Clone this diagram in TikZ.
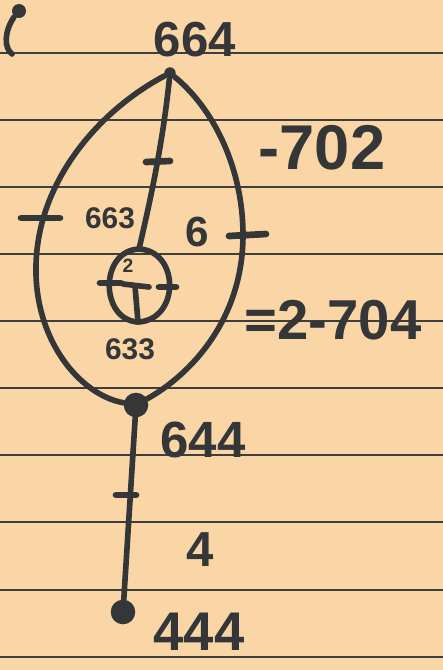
\documentclass[tikz,border=0pt]{standalone}
\usepackage{fontspec}
\setmainfont{Liberation Sans}
\usetikzlibrary{positioning,calc}
\definecolor{paper}{RGB}{250,214,166}
\definecolor{ruleline}{RGB}{62,62,60}
\definecolor{ink}{RGB}{52,54,56}

\begin{document}
\begin{tikzpicture}[x=0.02cm, y=-0.02cm,
  pen/.style={draw=ink, line width=3.2pt, line cap=round},
  notch/.style={draw=ink, line width=3.8pt, line cap=round},
  dot/.style={circle, fill=ink, inner sep=0pt, minimum size=#1},
  lbl/.style={text=ink, inner sep=0pt, font=\fontsize{#1}{#1}\selectfont\bfseries}]

  % Paper and ruling
  \fill[paper] (0,0) rectangle (443,670);
  \useasboundingbox (0,0) rectangle (443,670);
  \foreach \ly in {53,120,187,254,321,388,455,522,590,657} {
    \draw[ruleline, line width=0.7pt] (0,\ly) -- (443,\ly);
  }

  % Stray mark top left
  \fill[ink] (19,11) ellipse [x radius=7, y radius=7];
  \draw[pen] (14,17) .. controls (4,32) and (4,48) .. (12,54);

  % Vertices
  \node[dot=6.5pt] (v664) at (170,73) {};
  \node[dot=14pt] (v644) at (136,405) {};
  \node[dot=14pt] (v444) at (123,612) {};
  \coordinate (v663) at (139,249);
  \coordinate (v633) at (138,322);
  \coordinate (tbar) at (135,286);

  % Edges of the big loop
  \draw[pen] (v664) .. controls (100,110) and (38,180) .. (36,265)
                    .. controls (34,340) and (80,395) .. (v644);
  \draw[pen] (v664) .. controls (215,110) and (243,170) .. (243,235)
                    .. controls (243,320) and (190,375) .. (v644);

  % Inner edge and small loop
  \draw[pen] (v664) .. controls (162,150) and (148,210) .. (v663);
  \draw[pen] (v663) .. controls (99,251) and (100,320) .. (v633)
                    .. controls (180,320) and (180,251) .. (v663);
  \draw[pen] (123,284) -- (149,287);
  \draw[pen] (tbar) -- (v633);
  \node[lbl=11] (two) at (128,266) {2};

  % Pendant edge
  \draw[pen] (v644) -- (v444);

  % Notches
  \draw[notch] (21,218) -- (60,218);
  \draw[notch] (229,236) -- (266,234);
  \draw[notch] (146,162) -- (170,161);
  \draw[notch] (100,283) -- (121,283);
  \draw[notch] (159,287) -- (176,287);
  \draw[notch] (116,495) -- (136,495);

  % Labels
  \node[lbl=28] (l664) at (195,40) {664};
  \node[lbl=36] (l702) at (322,148) {-702};
  \node[lbl=17] (l663) at (110,218) {663};
  \node[lbl=24] (l6) at (197,232) {6};
  \node[lbl=32] (l704) at (333,320) {=2-704};
  \node[lbl=17] (l633) at (130,349) {633};
  \node[lbl=29] (l644) at (203,440) {644};
  \node[lbl=28] (l4) at (200,550) {4};
  \node[lbl=31] (l444) at (199,632) {444};

\end{tikzpicture}
\end{document}
